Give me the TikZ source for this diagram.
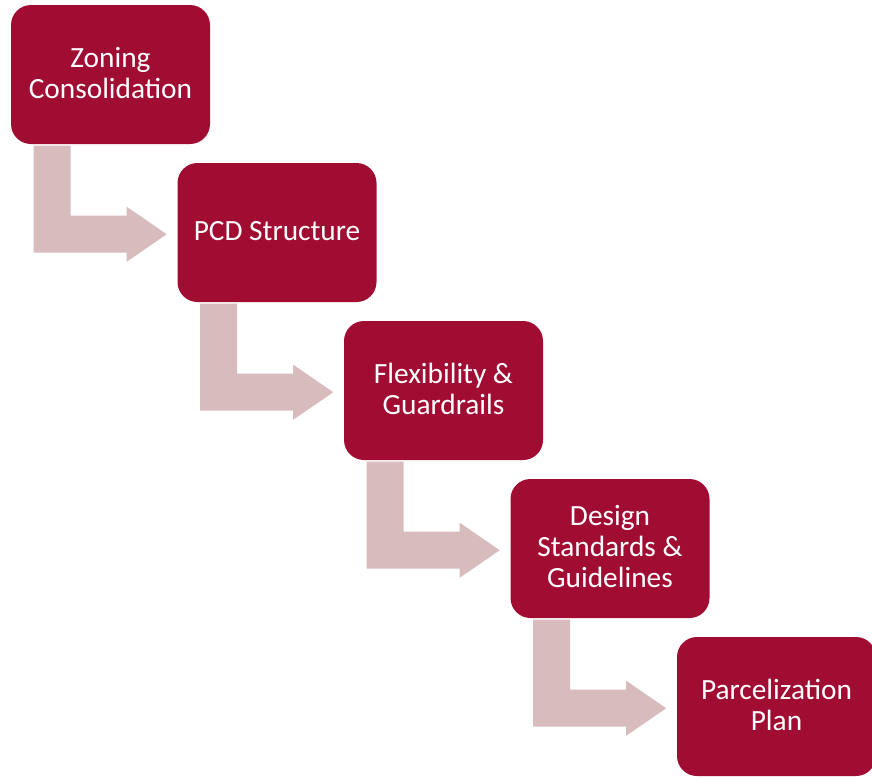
\documentclass[tikz,border=0pt]{standalone}
\usepackage{fontspec}
\setmainfont{Carlito}
\usetikzlibrary{calc}
\definecolor{boxred}{HTML}{A10C33}
\definecolor{arrowpink}{HTML}{D8BCBD}
\begin{document}
\begin{tikzpicture}[x=0.75pt,y=-0.75pt,
  stepbox/.style={fill=boxred, draw=none, rounded corners=15pt,
    minimum width=149.25pt, minimum height=104.25pt, inner sep=0pt,
    text=white, align=center, font=\fontsize{22}{23.25}\selectfont},
  bentarrow/.style={fill=arrowpink, draw=none}]
\useasboundingbox (0,0) rectangle (872,776);
\clip (0,0) rectangle (872,776);
\foreach \k/\txt in {0/{Zoning\\Consolidation},1/{PCD Structure},2/{Flexibility \&\\Guardrails},3/{Design\\Standards \&\\Guidelines},4/{Parcelization\\Plan}}{
  \node[stepbox] (b\k) at ({110.5+166.5*\k},{74.5+158*\k}) {};
  \node[text=white, align=center, font=\fontsize{22}{23.25}\selectfont, inner sep=0pt]
    (t\k) at ($(b\k.center)+(0,-1.5)$) {\txt};
}
\foreach \k in {0,1,2,3}{
  \coordinate (o\k) at (b\k.north west);
  \fill[bentarrow] ($(o\k)+(23,141)$) -- ($(o\k)+(60,141)$) -- ($(o\k)+(60,211)$)
    -- ($(o\k)+(116,211)$) -- ($(o\k)+(116,202)$) -- ($(o\k)+(156,229.5)$)
    -- ($(o\k)+(116,257)$) -- ($(o\k)+(116,248)$) -- ($(o\k)+(23,248)$) -- cycle;
}
\end{tikzpicture}
\end{document}
